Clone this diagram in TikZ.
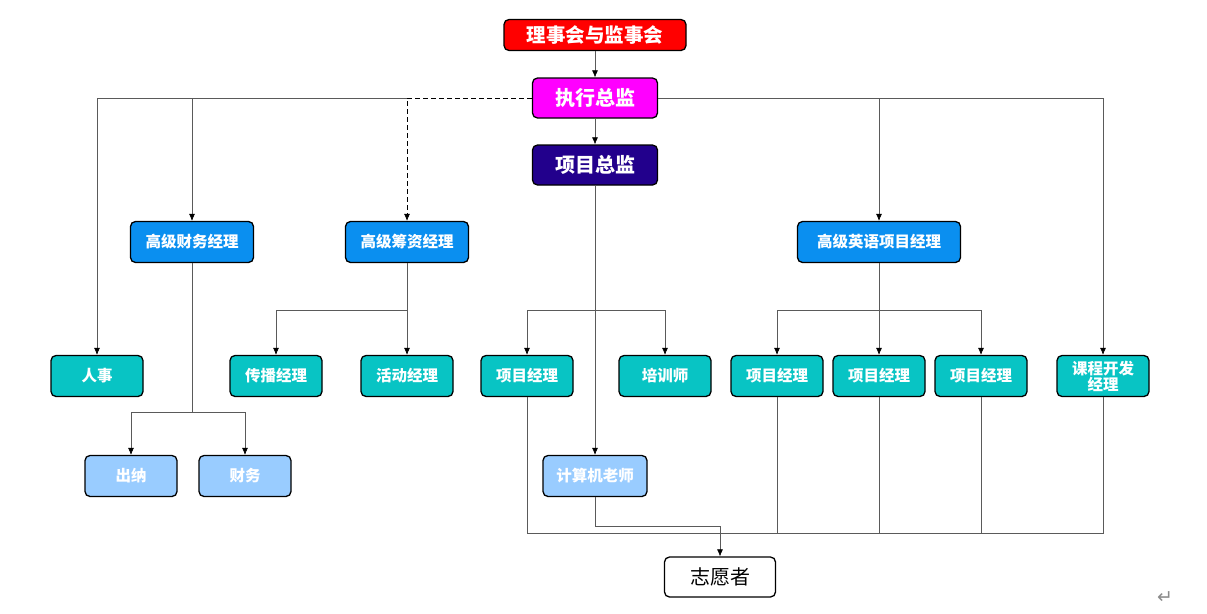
\documentclass[tikz,border=0pt]{standalone}
\usepackage{fontspec}
\newfontfamily\cjk{Noto Sans CJK SC}
\newfontfamily\symfont{DejaVu Sans}
\usetikzlibrary{arrows,arrows.meta,positioning}
\definecolor{boardred}{HTML}{FF0000}
\definecolor{execmag}{HTML}{FF00FF}
\definecolor{projnavy}{HTML}{22008C}
\definecolor{seniorblue}{HTML}{0A8FF0}
\definecolor{staffteal}{HTML}{08C4C4}
\definecolor{assistblue}{HTML}{99CCFF}
\definecolor{linkgray}{HTML}{5A5A5A}

\tikzset{
  box/.style={draw=black, line width=1.3pt, rounded corners=5pt, inner sep=2pt,
    text=white, align=center, minimum height=41pt,
    font=\cjk\bfseries\fontsize{15.5}{18}\selectfont},
  boardbox/.style={box, fill=boardred, minimum width=182pt, minimum height=31pt,
    font=\cjk\bfseries\fontsize{19.5}{22}\selectfont},
  chiefbox/.style={box, minimum width=125pt, minimum height=40pt,
    font=\cjk\bfseries\fontsize{20}{22}\selectfont},
  seniorbox/.style={box, fill=seniorblue, minimum width=123pt},
  staffbox/.style={box, fill=staffteal, minimum width=92pt},
  assistbox/.style={box, fill=assistblue, minimum width=92pt},
  volbox/.style={box, fill=white, text=black, minimum width=111pt, minimum height=40pt,
    font=\cjk\fontsize{20}{22}\selectfont},
}

\begin{document}
\begin{tikzpicture}[x=1pt,y=-1pt,->,>={Latex[length=7pt,width=6pt,color=black]},line width=0.6pt,draw=linkgray]
  \useasboundingbox (0,0) rectangle (1207,613);

  % top of the chart
  \node[boardbox]               (board)   at (595,35)  {理事会与监事会};
  \node[chiefbox,fill=execmag]  (exec)    at (595,98)  {执行总监};
  \node[chiefbox,fill=projnavy] (proj)    at (595,165) {项目总监};

  % senior managers
  \node[seniorbox]                      (fin)  at (192,242) {高级财务经理};
  \node[seniorbox]                      (fund) at (407,242) {高级筹资经理};
  \node[seniorbox,minimum width=163pt]  (eng)  at (879,242) {高级英语项目经理};

  % staff row
  \node[staffbox] (hr)      at (97,376)   {人事};
  \node[staffbox] (comm)    at (276,376)  {传播经理};
  \node[staffbox] (event)   at (407,376)  {活动经理};
  \node[staffbox] (pm)      at (527,376)  {项目经理};
  \node[staffbox] (trainer) at (665,376)  {培训师};
  \node[staffbox] (pmA)     at (777,376)  {项目经理};
  \node[staffbox] (pmB)     at (879,376)  {项目经理};
  \node[staffbox] (pmC)     at (981,376)  {项目经理};
  \node[staffbox] (course)  at (1103,376) {课程开发\\[-2pt]经理};

  % assistants
  \node[assistbox] (cashier) at (131,476) {出纳};
  \node[assistbox] (account) at (245,476) {财务};
  \node[assistbox,minimum width=104pt] (teacher) at (595,476) {计算机老师};

  \node[volbox] (vol) at (720,577) {志愿者};
  \node[text=black!45,font=\symfont\fontsize{19}{19}\selectfont] (mark) at (1165,598) {↵};

  % bus levels
  \coordinate (midbus)   at (0,310);
  \coordinate (finbus)   at (0,412);
  \coordinate (teachbus) at (0,526);
  \coordinate (botbus)   at (0,533);

  \draw (board) -- (exec);
  \draw (exec) -- (proj);

  \draw[black,dash pattern=on 5pt off 3pt] (exec.west) -| (fund);
  \draw (fund |- exec.west) -| (hr);
  \draw (fin |- exec.west) -- (fin);
  \draw (exec.east) -| (course);
  \draw (eng |- exec.east) -- (eng);

  \draw (fin) -- (fin |- finbus) -| (cashier);
  \draw (fin |- finbus) -| (account);

  \draw (fund) -- (event);
  \draw (fund |- midbus) -| (comm);

  \draw (proj) -- (teacher);
  \draw (proj |- midbus) -| (pm);
  \draw (proj |- midbus) -| (trainer);

  \draw (eng) -- (pmB);
  \draw (eng |- midbus) -| (pmA);
  \draw (eng |- midbus) -| (pmC);

  \draw[-] (pm) -- (pm |- botbus) -- (course |- botbus) -- (course);
  \draw[-] (pmA) -- (pmA |- botbus);
  \draw[-] (pmB) -- (pmB |- botbus);
  \draw[-] (pmC) -- (pmC |- botbus);
  \draw (teacher) -- (teacher |- teachbus) -| (vol);
\end{tikzpicture}
\end{document}
